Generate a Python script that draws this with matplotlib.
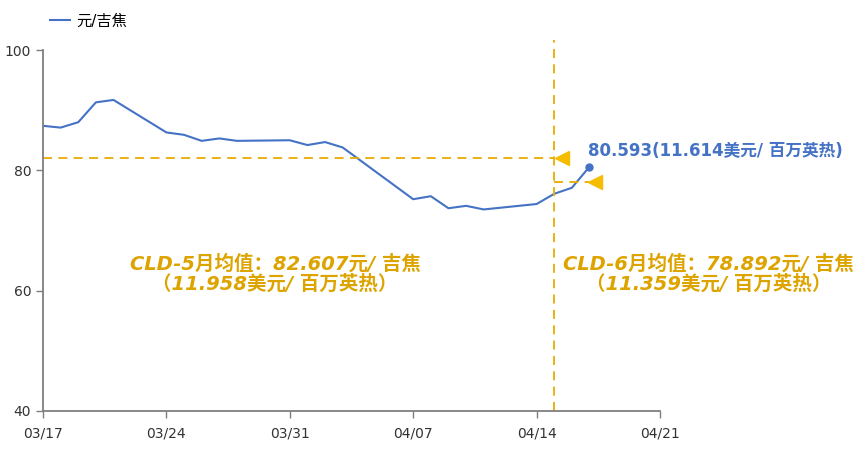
import matplotlib
matplotlib.use('Agg')
import matplotlib.pyplot as plt
import matplotlib.dates as mdates
import pandas as pd

# data
dates = ['2025-03-17', '2025-03-18', '2025-03-19', '2025-03-20', '2025-03-21',
         '2025-03-24', '2025-03-25', '2025-03-26', '2025-03-27', '2025-03-28',
         '2025-03-31', '2025-04-01', '2025-04-02', '2025-04-03',
         '2025-04-07', '2025-04-08', '2025-04-09', '2025-04-10', '2025-04-11',
         '2025-04-14', '2025-04-15', '2025-04-16', '2025-04-17']
price = [87.4, 87.1, 88.0, 91.3, 91.7,
         86.3, 85.9, 84.9, 85.3, 84.9,
         85.0, 84.2, 84.7, 83.8,
         75.2, 75.7, 73.7, 74.1, 73.5,
         74.4, 76.1, 77.1, 80.593]
series_name = '元/吉焦'
last_label = '80.593(11.614美元/ 百万英热)'
may_avg = 82.0      # dashed line position as drawn
june_avg = 78.0
split_date = '2025-04-15'
may_text = 'CLD-5月均值：82.607元/ 吉焦\n（11.958美元/ 百万英热）'
june_text = 'CLD-6月均值：78.892元/ 吉焦\n（11.359美元/ 百万英热）'

blue = '#4472C4'
gold = '#E8AD00'
text_gold = '#DDA400'
fam = ['DejaVu Sans', 'Noto Sans CJK SC']

x = pd.to_datetime(dates)
xs = pd.Timestamp(split_date)

fig = plt.figure(figsize=(8.65, 4.51), dpi=100)
ax = fig.add_axes([43/865, 1-411/451, (660-43)/865, (411-50)/451])

ax.plot(x, price, color=blue, lw=1.5, label=series_name)
ax.plot(x[-1], price[-1], 'o', color=blue, ms=5)

# reference lines
ax.plot([pd.Timestamp('2025-03-17'), xs], [may_avg, may_avg], color=gold, lw=1.3, ls=(0, (5, 3.5)))
ax.plot([xs, pd.Timestamp('2025-04-17') + pd.Timedelta(hours=6)], [june_avg, june_avg],
        color=gold, lw=1.3, ls=(0, (5, 3.5)))
ax.plot([xs, xs], [40, 101.7], color=gold, lw=1.3, ls=(0, (5, 3.5)), clip_on=False)
ax.plot(xs + pd.Timedelta(hours=10), may_avg, marker='<', color='#F5BC00', ms=10, clip_on=False)
ax.plot(pd.Timestamp('2025-04-17') + pd.Timedelta(hours=7), june_avg, marker='<', color='#F5BC00',
        ms=10, clip_on=False)

ax.annotate(last_label, (x[-1], price[-1]), xytext=(-1, 5), textcoords='offset points',
            color=blue, fontsize=12, fontweight='bold', family=fam, ha='left', va='bottom')

ax.text(pd.Timestamp('2025-03-30') + pd.Timedelta(hours=4), 62.8, may_text, color=text_gold,
        fontsize=14, fontweight='bold', fontstyle='italic', family=fam, ha='center',
        va='center', linespacing=1.0)
ax.text(pd.Timestamp('2025-04-23') + pd.Timedelta(hours=18), 62.8, june_text, color=text_gold,
        fontsize=14, fontweight='bold', fontstyle='italic', family=fam, ha='center',
        va='center', linespacing=1.0, clip_on=False)

ax.set_xlim(pd.Timestamp('2025-03-17'), pd.Timestamp('2025-04-21'))
ax.set_ylim(40, 100)
ax.set_yticks([40, 60, 80, 100])
ax.set_xticks(pd.date_range('2025-03-17', '2025-04-21', freq='7D'))
ax.xaxis.set_major_formatter(mdates.DateFormatter('%m/%d'))

for s in ['top', 'right']:
    ax.spines[s].set_visible(False)
for s in ['left', 'bottom']:
    ax.spines[s].set_color('#7F7F7F')
    ax.spines[s].set_linewidth(1.3)
ax.tick_params(axis='both', color='#7F7F7F', length=5, width=1, labelsize=10, labelcolor='#333333')
ax.tick_params(axis='x', pad=6)

fig.legend(loc='upper left', bbox_to_anchor=(0.042, 1.0), frameon=False, handlelength=1.3,
           handletextpad=0.4, prop={'family': fam, 'size': 11})

fig.savefig('out.png', dpi=100)
